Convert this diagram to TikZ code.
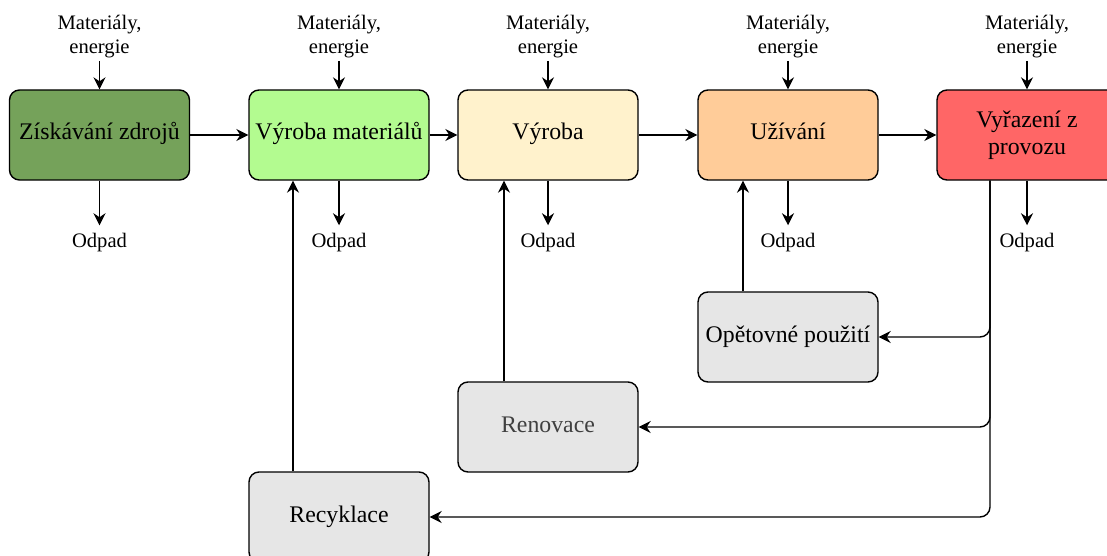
\documentclass[tikz,border=0pt]{standalone}
\usepackage{fontspec}
\setmainfont{Liberation Serif}
\usetikzlibrary{arrows.meta}

\definecolor{zdrojfill}{HTML}{75A25A}
\definecolor{matfill}{HTML}{B3FB90}
\definecolor{vyrfill}{HTML}{FFF2CC}
\definecolor{uzifill}{HTML}{FFCC99}
\definecolor{vyrazfill}{HTML}{FF6666}
\definecolor{smycka}{HTML}{E6E6E6}

\begin{document}
\begin{tikzpicture}[x=0.5pt,y=-0.5pt,
	box/.style={draw,line width=0.7pt,rounded corners=5pt,minimum width=90pt,minimum height=45pt,align=center,inner sep=1pt,font=\fontsize{11.9}{13.5}\selectfont},
	radek/.style={box,text height=0.72em,text depth=0.22em},
	etiq/.style={align=center,inner sep=1pt,font=\fontsize{10.3}{12}\selectfont},
	sip/.style={-{Stealth[length=6pt,width=6pt,inset=2pt]},line width=0.7pt}]
		\useasboundingbox (0,0) rectangle (1107,556);
		%\node (nom node) at(x,y) [options] {affichage} ;
		\node (node 1) at(99.5, 135) [radek,fill=zdrojfill] {Získávání zdrojů} ;
		\node (node 2) at(339, 135) [radek,fill=matfill] {Výroba materiálů} ;
		\node (node 3) at(548, 135) [radek,fill=vyrfill] {Výroba} ;
		\node (node 4) at(788, 135) [radek,fill=uzifill] {Užívání} ;
		\node (node 5) at(1027, 135) [box,fill=vyrazfill] {Vyřazení z\\provozu} ;

		\node (reuse) at(788, 337) [radek,fill=smycka] {Opětovné použití} ;
		\node (renov) at(548, 427) [radek,fill=smycka,text=black!75] {Renovace} ;
		\node (recyk) at(339, 517) [radek,fill=smycka] {Recyklace} ;

		%vstupy a odpady
		\foreach \i/\x in {1/99.5,2/339,3/548,4/788,5/1027} {
			\node (in \i) [etiq] at(\x, 37) {Materiály,\\energie} ;
			\node (out \i) [etiq] at(\x, 243) {Odpad} ;
			\draw[sip] (in \i.south) -- (node \i.north) ;
			\draw[sip] (node \i.south) -- ([yshift=3pt]out \i.north) ;
		}

		%\path (nom node A) edge[options] (nom node B);
		\path
		(node 1) edge[sip] (node 2)
		(node 2) edge[sip] (node 3)
		(node 3) edge[sip] (node 4)
		(node 4) edge[sip] (node 5)
		;

		%zpetne vazby
		\draw[sip] ([xshift=-22.5pt]reuse.north) -- ([xshift=-22.5pt]node 4.south) ;
		\draw[sip] ([xshift=-22pt]renov.north) -- ([xshift=-22pt]node 3.south) ;
		\draw[sip] ([xshift=-23pt]recyk.north) -- ([xshift=-23pt]node 2.south) ;

		\coordinate (kmen) at([xshift=-18.5pt]node 5.south) ;
		\draw[sip,rounded corners=5pt] (kmen) |- (reuse.east) ;
		\draw[sip,rounded corners=5pt] (kmen) |- (renov.east) ;
		\draw[sip,rounded corners=5pt] (kmen) |- (recyk.east) ;
	\end{tikzpicture}
\end{document}
